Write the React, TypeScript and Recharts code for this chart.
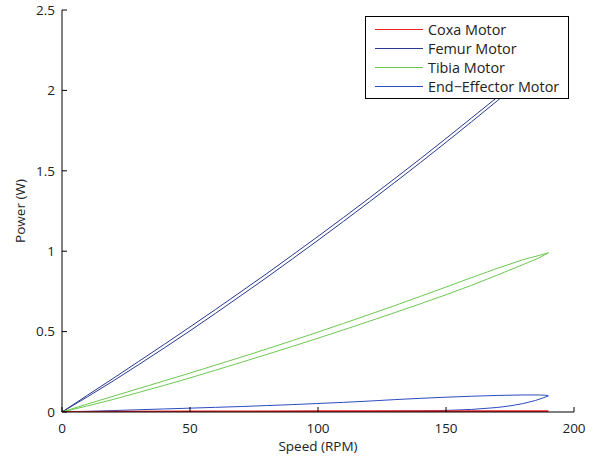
import React from 'react';
import { LineChart, Line, XAxis, YAxis, Legend } from 'recharts';

const speedTicks = [0, 50, 100, 150, 200];
const powerTicks = [0, 0.5, 1, 1.5, 2, 2.5];

// Coxa motor (out then back)
const coxaSpeed = [0, 50, 100, 150, 190, 150, 100, 50, 0];
const coxaPower = [0, 0.003, 0.004, 0.005, 0.004, 0.001, 0.001, 0.0005, 0];

// Femur motor
const femurSpeed = [
  0, 10, 20, 30, 40, 50, 60, 70, 80, 90, 100, 110, 120, 130, 140, 150, 160, 170, 180, 190,
  180, 170, 160, 150, 140, 130, 120, 110, 100, 90, 80, 70, 60, 50, 40, 30, 20, 10, 0,
];
const femurPower = [
  0, 0.105, 0.209, 0.315, 0.421, 0.529, 0.638, 0.749, 0.861, 0.976, 1.092, 1.21, 1.33, 1.452, 1.575, 1.701, 1.829, 1.957, 2.084, 2.209,
  2.068, 1.935, 1.805, 1.677, 1.551, 1.428, 1.306, 1.186, 1.068, 0.952, 0.837, 0.725, 0.614, 0.505, 0.399, 0.295, 0.193, 0.095, 0,
];

// Tibia motor
const tibiaSpeed = [
  0, 10, 20, 30, 40, 50, 60, 70, 80, 90, 100, 110, 120, 130, 140, 150, 160, 170, 180, 186, 190,
  186, 180, 170, 160, 150, 140, 130, 120, 110, 100, 90, 80, 70, 60, 50, 40, 30, 20, 10, 0,
];
const tibiaPower = [
  0, 0.05, 0.098, 0.146, 0.194, 0.242, 0.292, 0.341, 0.392, 0.444, 0.497, 0.551, 0.606, 0.662, 0.719, 0.777, 0.836, 0.893, 0.947, 0.972, 0.99,
  0.956, 0.916, 0.851, 0.788, 0.729, 0.673, 0.618, 0.564, 0.511, 0.459, 0.408, 0.358, 0.309, 0.26, 0.212, 0.166, 0.122, 0.078, 0.038, 0,
];

// End-effector motor
const endSpeed = [
  0, 10, 20, 30, 40, 50, 60, 70, 80, 90, 100, 110, 120, 130, 140, 150, 160, 170, 180, 186, 189, 190,
  188, 185, 180, 175, 170, 160, 150, 140, 120, 100, 80, 60, 40, 20, 0,
];
const endPower = [
  0, 0.004, 0.009, 0.014, 0.019, 0.024, 0.029, 0.034, 0.04, 0.046, 0.053, 0.06, 0.068, 0.077, 0.085, 0.092, 0.098, 0.103, 0.106, 0.106, 0.104, 0.1,
  0.088, 0.072, 0.052, 0.038, 0.028, 0.016, 0.01, 0.007, 0.004, 0.003, 0.002, 0.001, 0.001, 0.0005, 0,
];

const seriesNames = ['Coxa Motor', 'Femur Motor', 'Tibia Motor', 'End\u2212Effector Motor'];
const seriesColors = ['#ee2424', '#2a3a8f', '#6cc850', '#2b4cc0'];

const toPoints = (s: number[], p: number[]) => s.map((v, i) => ({ s: v, p: p[i] }));

const seriesData = [
  toPoints(coxaSpeed, coxaPower),
  toPoints(femurSpeed, femurPower),
  toPoints(tibiaSpeed, tibiaPower),
  toPoints(endSpeed, endPower),
];

const FONT = '"Open Sans", "DejaVu Sans", sans-serif';

const renderLegend = () => (
  <div
    style={{
      border: '1px solid #000',
      background: '#fff',
      boxSizing: 'border-box',
      width: 204,
      height: 83,
      paddingTop: 3,
      fontFamily: FONT,
      fontSize: 14.4,
      color: '#222',
    }}
  >
    {seriesNames.map((name, i) => (
      <div key={name} style={{ display: 'flex', alignItems: 'center', height: 19 }}>
        <svg width={62} height={19} style={{ flex: 'none' }}>
          <line x1={9} x2={57} y1={9.5} y2={9.5} stroke={seriesColors[i]} strokeWidth={1} />
        </svg>
        <span style={{ whiteSpace: 'nowrap', lineHeight: '19px' }}>{name}</span>
      </div>
    ))}
  </div>
);

const renderYLabel = (props: any) => {
  const vb = props.viewBox || {};
  const cy = (vb.y ?? 10) + (vb.height ?? 402) / 2;
  const cx = 25;
  return (
    <text
      x={cx}
      y={cy}
      transform={`rotate(-90 ${cx} ${cy})`}
      textAnchor="middle"
      fontSize={13.5}
      fontFamily={FONT}
      fill="#222"
    >
      Power (W)
    </text>
  );
};

const renderXLabel = (props: any) => {
  const vb = props.viewBox || {};
  const cx = (vb.x ?? 62) + (vb.width ?? 512) / 2;
  return (
    <text x={cx} y={451} textAnchor="middle" fontSize={13.5} fontFamily={FONT} fill="#222">
      Speed (RPM)
    </text>
  );
};

const tickStyle = { fontSize: 13.5, fill: '#222', fontFamily: FONT };

export default function App() {
  const drawOrder = [1, 2, 3, 0];
  return (
    <div style={{ position: 'absolute', left: 0, top: 0, background: '#fff' }}>
      <LineChart width={597} height={461} margin={{ top: 10, right: 23, bottom: 0, left: 0 }}>
        <XAxis
          dataKey="s"
          type="number"
          domain={[0, 200]}
          ticks={speedTicks}
          height={49}
          tickSize={-5}
          tickMargin={16}
          tick={tickStyle}
          axisLine={{ stroke: '#000' }}
          tickLine={{ stroke: '#000' }}
          allowDataOverflow
          label={{ content: renderXLabel }}
        />
        <XAxis
          xAxisId="top"
          orientation="top"
          type="number"
          domain={[0, 200]}
          ticks={speedTicks}
          height={0}
          tickSize={-5}
          tick={false}
          axisLine={{ stroke: '#000' }}
          tickLine={{ stroke: '#000' }}
          allowDataOverflow
        />
        <YAxis
          type="number"
          domain={[0, 2.5]}
          ticks={powerTicks}
          width={62}
          tickSize={-5}
          tickMargin={12}
          tick={tickStyle}
          axisLine={{ stroke: '#000' }}
          tickLine={{ stroke: '#000' }}
          allowDataOverflow
          label={{ content: renderYLabel }}
        />
        <YAxis
          yAxisId="right"
          orientation="right"
          type="number"
          domain={[0, 2.5]}
          ticks={powerTicks}
          width={0}
          tickSize={-5}
          tick={false}
          axisLine={{ stroke: '#000' }}
          tickLine={{ stroke: '#000' }}
          allowDataOverflow
        />
        {drawOrder.map((i) => (
          <Line
            key={seriesNames[i]}
            data={seriesData[i]}
            dataKey="p"
            name={seriesNames[i]}
            stroke={seriesColors[i]}
            strokeWidth={i === 0 ? 2 : 1}
            dot={false}
            activeDot={false}
            isAnimationActive={false}
            type="linear"
          />
        ))}
        <Legend
          layout="vertical"
          align="center"
          verticalAlign="middle"
          content={renderLegend}
          wrapperStyle={{ left: 365, top: 16, width: 204, height: 83 }}
        />
      </LineChart>
    </div>
  );
}
